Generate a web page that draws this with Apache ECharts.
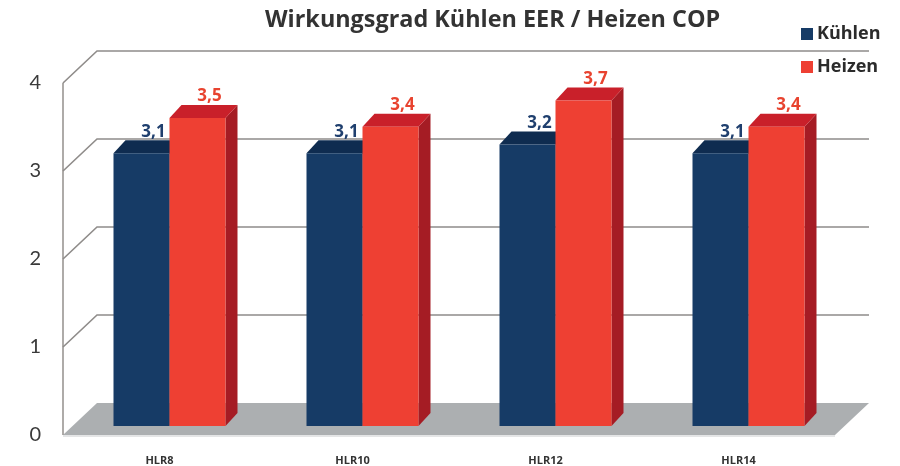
<!DOCTYPE html>
<html>
<head>
<meta charset="utf-8">
<script src="https://cdn.jsdelivr.net/npm/echarts@6/dist/echarts.min.js"></script>
<style>
  html, body { margin: 0; padding: 0; background: #ffffff; }
  #chart { width: 900px; height: 466px; }
</style>
</head>
<body>
<div id="chart"></div>
<script>
// Efficiency figures per unit
const categories = ['HLR8', 'HLR10', 'HLR12', 'HLR14'];
const coolingEER = [3.1, 3.1, 3.2, 3.1];
const heatingCOP = [3.5, 3.4, 3.7, 3.4];
const yTicks = [0, 1, 2, 3, 4];
const seriesNames = ['Kühlen', 'Heizen'];

// Pseudo-3D geometry (pixels)
const WALL_DX = 34, WALL_DY = -32;   // depth of the chart box
const PLANE_DX = 10, PLANE_DY = -9;  // where the bars stand inside the box
const BAR_W = 56;
const BAR_DX = 12, BAR_DY = -13;     // bar depth

const COLORS = {
  cool: { front: '#163b66', top: '#0f2c50', side: '#0d2745', label: '#1f3f6e' },
  heat: { front: '#ee4033', top: '#c9202a', side: '#a51c24', label: '#e8432f' }
};

const FONT = 'Lato, "Open Sans", sans-serif';
const BOLD_FONT = '"Open Sans", Lato, sans-serif';

function fmt(v) { return v.toFixed(1).replace('.', ','); }

// Floor, left wall and back-wall grid lines
function renderFrame(params, api) {
  const v = api.value(0);
  const cs = params.coordSys;
  const left = cs.x, right = cs.x + cs.width;
  const y = api.coord([0, v])[1];
  const children = [];
  if (v === 0) {
    children.push({
      type: 'polygon',
      shape: { points: [[left, y], [left + WALL_DX, y + WALL_DY], [right + WALL_DX, y + WALL_DY], [right, y]] },
      style: { fill: '#acafb1' }
    });
    children.push({
      type: 'line',
      shape: { x1: left, y1: y + 1, x2: right, y2: y + 1 },
      style: { stroke: '#c9cbcd', lineWidth: 1 }
    });
    // left wall front edge
    const yTop = api.coord([0, yTicks[yTicks.length - 1]])[1];
    children.push({
      type: 'line',
      shape: { x1: left, y1: yTop, x2: left, y2: y },
      style: { stroke: '#9a9693', lineWidth: 1.6 }
    });
  } else {
    children.push({
      type: 'polyline',
      shape: { points: [[left, y], [left + WALL_DX, y + WALL_DY], [right + WALL_DX, y + WALL_DY]] },
      style: { stroke: '#8f8c8a', lineWidth: 1.6, fill: null }
    });
  }
  return { type: 'group', children: children };
}

function makeBarRenderer(which) {
  const c = which === 0 ? COLORS.cool : COLORS.heat;
  return function (params, api) {
    const idx = api.value(0);
    const val = api.value(1);
    const top = api.coord([idx, val]);
    const base = api.coord([idx, 0]);
    const cx = top[0] + PLANE_DX;
    const x0 = which === 0 ? cx - BAR_W : cx;
    const x1 = x0 + BAR_W;
    const yT = top[1] + PLANE_DY;
    const yB = base[1] + PLANE_DY;
    return {
      type: 'group',
      children: [
        {
          type: 'polygon',
          shape: { points: [[x1, yT], [x1 + BAR_DX, yT + BAR_DY], [x1 + BAR_DX, yB + BAR_DY], [x1, yB]] },
          style: { fill: c.side }
        },
        {
          type: 'polygon',
          shape: { points: [[x0, yT], [x1, yT], [x1 + BAR_DX, yT + BAR_DY], [x0 + BAR_DX, yT + BAR_DY]] },
          style: { fill: c.top }
        },
        {
          type: 'rect',
          shape: { x: x0, y: yT, width: BAR_W, height: yB - yT },
          style: { fill: c.front }
        },
        {
          type: 'text',
          style: {
            x: (x0 + x1) / 2 + BAR_DX,
            y: yT + BAR_DY,
            text: fmt(val),
            fill: c.label,
            font: 'bold 17px ' + BOLD_FONT,
            align: 'center',
            verticalAlign: 'bottom'
          }
        }
      ]
    };
  };
}

const chart = echarts.init(document.getElementById('chart'), null, { renderer: 'canvas' });

chart.setOption({
  backgroundColor: '#ffffff',
  animation: false,
  title: {
    text: 'Wirkungsgrad Kühlen EER / Heizen COP',
    left: 260,
    top: 4,
    textStyle: { fontFamily: BOLD_FONT, fontWeight: 'bold', fontSize: 23.4, color: '#333333' }
  },
  legend: {
    orient: 'vertical',
    left: 796,
    top: 20,
    itemWidth: 12,
    itemHeight: 12,
    itemGap: 15,
    icon: 'rect',
    data: seriesNames,
    textStyle: { fontFamily: BOLD_FONT, fontWeight: 'bold', fontSize: 18, color: '#2b2b2b', padding: [0, 0, 0, -1] }
  },
  grid: { left: 63, right: 65, top: 83, bottom: 31, containLabel: false },
  xAxis: {
    type: 'category',
    data: categories,
    axisLine: { show: false },
    axisTick: { show: false },
    splitLine: { show: false },
    axisLabel: { margin: 20, fontFamily: BOLD_FONT, fontWeight: 'bold', fontSize: 11, color: '#333333' }
  },
  yAxis: {
    type: 'value',
    min: 0,
    max: 4,
    interval: 1,
    axisLine: { show: false },
    axisTick: { show: false },
    splitLine: { show: false },
    axisLabel: { margin: 22, fontFamily: FONT, fontSize: 20, color: '#3a3a3a' }
  },
  series: [
    {
      type: 'custom',
      name: 'frame',
      z: 1,
      silent: true,
      renderItem: renderFrame,
      encode: { y: 0 },
      data: yTicks.map(function (v) { return [v]; })
    },
    {
      type: 'custom',
      name: seriesNames[0],
      z: 2,
      itemStyle: { color: COLORS.cool.front },
      renderItem: makeBarRenderer(0),
      encode: { x: 0, y: 1 },
      data: coolingEER.map(function (v, i) { return [i, v]; })
    },
    {
      type: 'custom',
      name: seriesNames[1],
      z: 3,
      itemStyle: { color: COLORS.heat.front },
      renderItem: makeBarRenderer(1),
      encode: { x: 0, y: 1 },
      data: heatingCOP.map(function (v, i) { return [i, v]; })
    }
  ]
});
</script>
</body>
</html>
